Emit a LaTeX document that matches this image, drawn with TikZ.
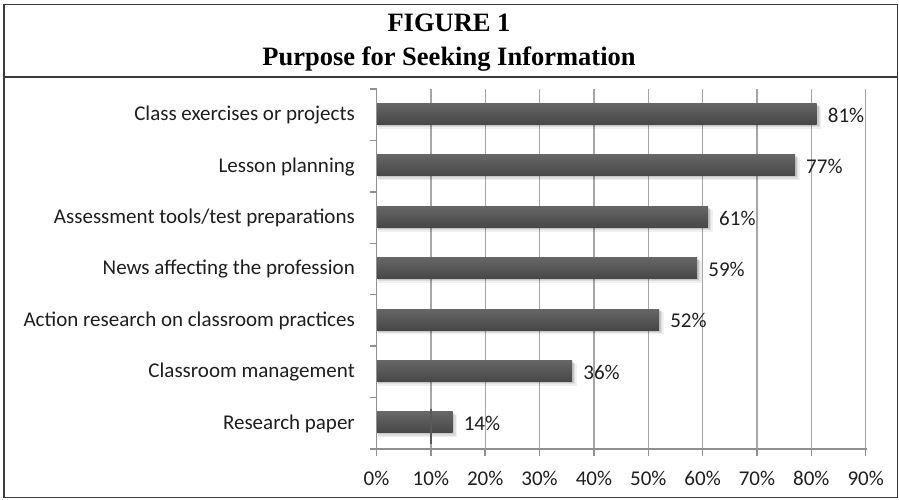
\documentclass[tikz,border=0pt]{standalone}
\usepackage{fontspec}
\setmainfont{Carlito}
\newfontfamily\titlefont{Liberation Serif}
\definecolor{gridgray}{HTML}{A6A6A6}
\definecolor{axisgray}{HTML}{909090}
\definecolor{bartop}{HTML}{666666}
\definecolor{barbot}{HTML}{474747}
\definecolor{labtext}{HTML}{1E1E1E}
\definecolor{framecol}{HTML}{3A3A3A}
\tikzset{
  lab/.style={inner sep=0pt, text height=16pt, text depth=4pt, text=labtext,
              font=\fontsize{21}{25}\selectfont},
  ttl/.style={inner sep=0pt, anchor=base, text=black,
              font=\titlefont\bfseries\fontsize{26.5}{30}\selectfont},
  framestyle/.style={draw=framecol, line width=1.6pt},
  gridstyle/.style={draw=gridgray, line width=1.3pt},
  axisstyle/.style={draw=axisgray, line width=1.5pt},
  barstyle/.style={top color=bartop, bottom color=barbot},
}
\begin{document}
\begin{tikzpicture}[x=1pt, y=-1pt]
\useasboundingbox (0,0) rectangle (899,499);
% frame and title
\draw[framestyle] (4,4.5) rectangle (897.5,497.5);
\draw[framestyle] (4,76.7) -- (897.5,76.7);
\node[ttl] (fig) at (449,31.5) {FIGURE 1};
\node[ttl] (title) at (449,65) {Purpose for Seeking Information};
% vertical gridlines
\foreach \k in {1,...,9} {
  \draw[gridstyle] (376.5+54.35*\k,89) -- (376.5+54.35*\k,449);
}
% bars and labels
\foreach \i/\v/\t in {0/81/{Class exercises or projects},
                      1/77/{Lesson planning},
                      2/61/{Assessment tools/test preparations},
                      3/59/{News affecting the profession},
                      4/52/{Action research on classroom practices},
                      5/36/{Classroom management},
                      6/14/{Research paper}} {
  \pgfmathsetmacro\yc{114.7+51.43*\i}
  \pgfmathsetmacro\xe{376.5+5.435*\v}
  \fill[black, opacity=0.06] (378,\yc-8) rectangle (\xe+4.5,\yc+14);
  \fill[black, opacity=0.08] (378,\yc-9) rectangle (\xe+3,\yc+12.5);
  \fill[black, opacity=0.10] (378,\yc-10) rectangle (\xe+1.8,\yc+11.2);
  \path[barstyle] (377,\yc-11.3) rectangle (\xe,\yc+9.7);
  \node[lab, anchor=east] (c\i) at (355,\yc) {\t};
  \node[lab, anchor=west] (v\i) at (\xe+11,\yc+1.5) {\v\%};
}
% grid artifact over the short bar
\draw[draw=barbot!90, line width=1.5pt] (430.85,409) -- (430.85,444);
% axes
\draw[axisstyle] (376.5,89) -- (376.5,449) -- (866.65,449);
\foreach \j in {0,...,7} {
  \draw[axisstyle] (370,89+51.43*\j) -- (376.5,89+51.43*\j);
}
\foreach \k in {0,...,9} {
  \pgfmathtruncatemacro\p{10*\k}
  \draw[axisstyle] (376.5+54.35*\k,449) -- (376.5+54.35*\k,455.5);
  \node[lab] (t\k) at (376.5+54.35*\k,479) {\p\%};
}
\end{tikzpicture}
\end{document}
